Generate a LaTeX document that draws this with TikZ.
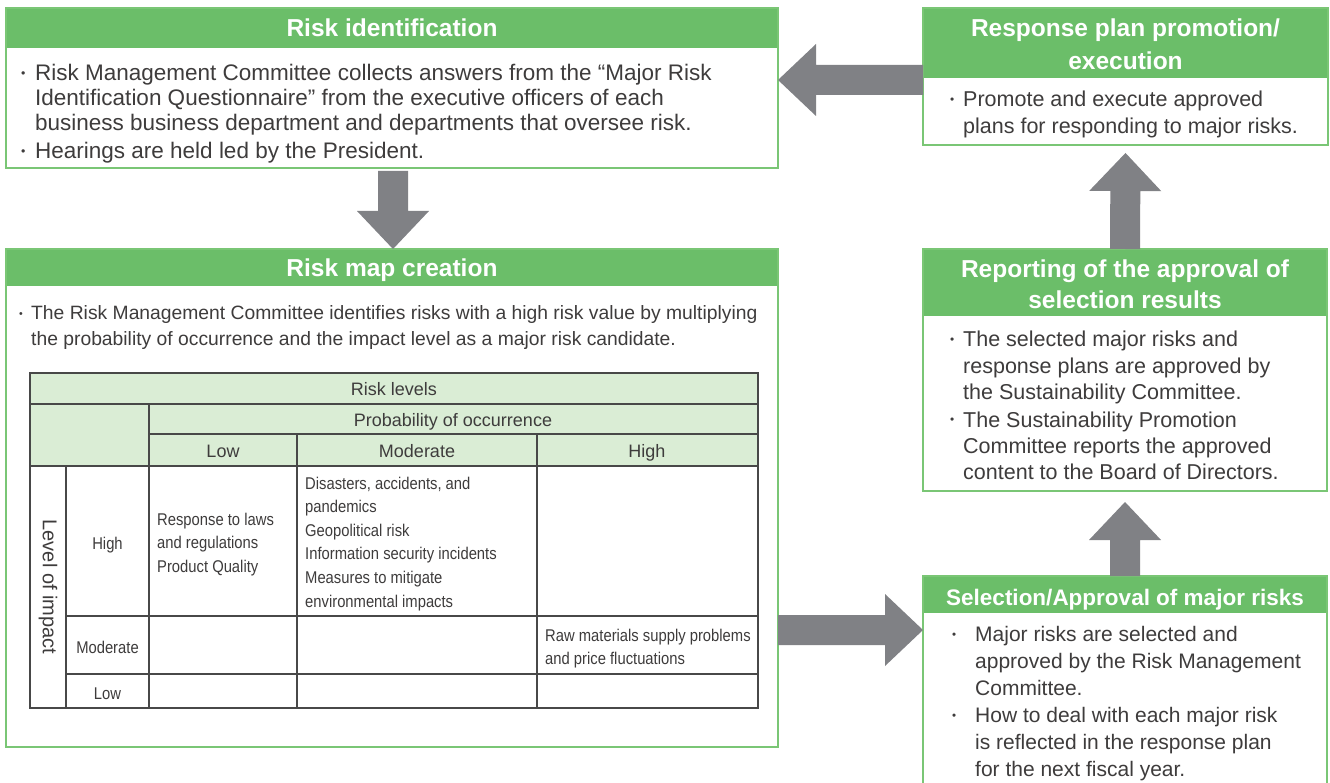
\documentclass[tikz,border=0pt]{standalone}
\usepackage{fontspec}
\usepackage{graphicx}
\setmainfont{Liberation Sans}
\newfontfamily\condfont[FakeStretch=0.87]{Liberation Sans}
\usetikzlibrary{calc}
\definecolor{bandc}{RGB}{107,190,105}
\definecolor{edgec}{RGB}{122,198,117}
\definecolor{hdrc}{RGB}{218,237,213}
\definecolor{gridc}{RGB}{72,72,72}
\definecolor{arrc}{RGB}{128,129,133}
\definecolor{txtc}{RGB}{62,60,60}
\newcommand\fs[2]{\fontsize{#1}{#2}\selectfont}
\newcommand\bul{\raisebox{0.14em}{\scalebox{0.55}{•}}}
\newcommand\pb[1]{\parbox[t]{800pt}{#1}}
\newcommand\blockarrow[2]{%
  \coordinate (ba-s) at (#1);
  \coordinate (ba-t) at (#2);
  \coordinate (ba-h) at ($(ba-t)!38pt!(ba-s)$);
  \fill[arrc] ($(ba-s)!15pt!90:(ba-t)$) -- ($(ba-h)!15pt!-90:(ba-s)$) -- ($(ba-h)!36pt!-90:(ba-s)$) -- (ba-t)
     -- ($(ba-h)!36pt!90:(ba-s)$) -- ($(ba-h)!15pt!90:(ba-s)$) -- ($(ba-s)!15pt!-90:(ba-t)$) -- cycle;}
\tikzset{
  frame/.style={draw=edgec, line width=1.6pt, inner sep=0pt, outer sep=0pt, anchor=north west},
  bandbox/.style={fill=bandc, draw=none, inner sep=0pt, outer sep=0pt, anchor=north west},
  ttl/.style={text=white, font=\bfseries\fs{24.5}{33}, inner sep=0pt, anchor=base},
  body/.style={text=txtc, inner sep=0pt, anchor=base west},
  hdrtext/.style={text=txtc, font=\fs{18}{22}, inner sep=0pt, anchor=base},
  cell/.style={text=txtc, font=\condfont\fs{17}{23.6}, inner sep=0pt, anchor=base west},
  rowlab/.style={text=txtc, font=\condfont\fs{17}{23.6}, inner sep=0pt, anchor=base},
  gridl/.style={draw=gridc, line width=1.1pt},
  gridouter/.style={draw=gridc, line width=1.5pt}
}
\begin{document}
\begin{tikzpicture}[x=1pt,y=1pt]
\useasboundingbox (0,0) rectangle (1330,-783);
\clip (0,0) rectangle (1330,-783);
\fill[white] (0,0) rectangle (1330,-783);

% ---------- Risk identification ----------
\node[bandbox, minimum width=772pt, minimum height=40pt] (riskidB) at (6,-8) {};
\node[frame, minimum width=772pt, minimum height=160pt] (riskid) at (6,-8) {};
\node[ttl] (riskidT) at (392,-37) {Risk identification};
\node[body, font=\fs{22.5}{25}] (riskidD1) at (21,-81) {\bul};
\node[body, font=\fs{22.5}{25}] (riskidP1) at (35,-81) {\pb{Risk Management Committee collects answers from the “Major Risk\\Identification Questionnaire” from the executive officers of each\\business business department and departments that oversee risk.}};
\node[body, font=\fs{22.5}{25}] (riskidD2) at (21,-159) {\bul};
\node[body, font=\fs{22.5}{25}] (riskidP2) at (35,-159) {Hearings are held led by the President.};

% ---------- Risk map creation ----------
\node[bandbox, minimum width=772pt, minimum height=37pt] (mapB) at (6,-249) {};
\node[frame, minimum width=772pt, minimum height=498pt] (riskmap) at (6,-249) {};
\node[ttl] (mapT) at (392,-277) {Risk map creation};
\node[body, font=\fs{19.3}{26}] (mapD1) at (19,-320) {\bul};
\node[body, font=\fs{19.3}{26}] (mapP1) at (31,-320) {\pb{The Risk Management Committee identifies risks with a high risk value by multiplying\\the probability of occurrence and the impact level as a major risk candidate.}};

% table
\fill[hdrc] (30,-373) rectangle (758,-466);
\draw[gridl] (30,-404) -- (758,-404);
\draw[gridl] (149,-434) -- (758,-434);
\draw[gridl] (30,-466) -- (758,-466);
\draw[gridl] (66,-616) -- (758,-616);
\draw[gridl] (66,-674) -- (758,-674);
\draw[gridl] (66,-466) -- (66,-708);
\draw[gridl] (149,-404) -- (149,-708);
\draw[gridl] (297,-434) -- (297,-708);
\draw[gridl] (537,-434) -- (537,-708);
\draw[gridouter] (30,-373) rectangle (758,-708);

\node[hdrtext] (hRL) at (394,-395) {Risk levels};
\node[hdrtext] (hPO) at (453,-426) {Probability of occurrence};
\node[hdrtext] (hLow) at (223,-457) {Low};
\node[hdrtext] (hMod) at (417,-457) {Moderate};
\node[hdrtext] (hHigh) at (647,-457) {High};
\node[text=txtc, font=\fs{20}{22}, inner sep=0pt, rotate=-90] (hLI) at (48,-587) {Level of impact};
\node[rowlab] (rHigh) at (107.5,-549) {High};
\node[rowlab] (rMod) at (107.5,-653) {Moderate};
\node[rowlab] (rLow) at (107.5,-699) {Low};
\node[cell] (cLH) at (157,-525) {\pb{Response to laws\\and regulations\\Product Quality}};
\node[cell] (cMH) at (305,-489) {\pb{Disasters, accidents, and\\pandemics\\Geopolitical risk\\Information security incidents\\Measures to mitigate\\environmental impacts}};
\node[cell] (cHM) at (545,-641) {\pb{Raw materials supply problems\\and price fluctuations}};

% ---------- Response plan promotion/execution ----------
\node[bandbox, minimum width=405pt, minimum height=70pt] (respB) at (923,-8) {};
\node[frame, minimum width=405pt, minimum height=137pt] (resp) at (923,-8) {};
\node[ttl] (respT) at (1125.5,-37) {\parbox[t]{400pt}{\centering Response plan promotion/\\execution}};
\node[body, font=\fs{21.5}{26.3}] (respD1) at (950,-107) {\bul};
\node[body, font=\fs{21.5}{26.3}] (respP1) at (963,-107) {\pb{Promote and execute approved\\plans for responding to major risks.}};

% ---------- Reporting ----------
\node[bandbox, minimum width=404pt, minimum height=67pt] (repB) at (923,-249) {};
\node[frame, minimum width=404pt, minimum height=242pt] (report) at (923,-249) {};
\node[ttl, font=\bfseries\fs{24.5}{31}] (repT) at (1125,-278) {\parbox[t]{400pt}{\centering Reporting of the approval of\\selection results}};
\node[body, font=\fs{21.5}{26.3}] (repD1) at (950,-347) {\bul};
\node[body, font=\fs{21.5}{26.3}] (repP1) at (963,-347) {\pb{The selected major risks and\\response plans are approved by\\the Sustainability Committee.}};
\node[body, font=\fs{21.5}{26.3}] (repD2) at (950,-427) {\bul};
\node[body, font=\fs{21.5}{26.3}] (repP2) at (963,-427) {\pb{The Sustainability Promotion\\Committee reports the approved\\content to the Board of Directors.}};

% ---------- Selection/Approval ----------
\node[bandbox, minimum width=404pt, minimum height=37pt] (selB) at (923,-576) {};
\node[frame, minimum width=404pt, minimum height=230pt] (select) at (923,-576) {};
\node[ttl, font=\bfseries\fs{22.5}{28}] (selT) at (1125,-605) {Selection/Approval of major risks};
\node[body, font=\fs{21}{27}] (selD1) at (952,-641) {\bul};
\node[body, font=\fs{21}{27}] (selP1) at (975,-641) {\pb{Major risks are selected and\\approved by the Risk Management\\Committee.}};
\node[body, font=\fs{21}{27}] (selD2) at (952,-722) {\bul};
\node[body, font=\fs{21}{27}] (selP2) at (975,-722) {\pb{How to deal with each major risk\\is reflected in the response plan\\for the next fiscal year.}};

% ---------- Arrows ----------
\coordinate (a1s) at ($(resp.west)+(0,-3.5)$);
\coordinate (a1t) at (riskid.east |- a1s);
\blockarrow{a1s}{a1t}
\coordinate (a2s) at ($(riskid.south)+(1,-3)$);
\coordinate (a2t) at ($(riskmap.north)+(1,0)$);
\blockarrow{a2s}{a2t}
\coordinate (a3s) at ($(riskmap.east)+(0,-132)$);
\coordinate (a3t) at (select.west |- a3s);
\blockarrow{a3s}{a3t}
\coordinate (a4s) at (select.north);
\coordinate (a4t) at ($(report.south)+(0,-11)$);
\blockarrow{a4s}{a4t}
\coordinate (a5s) at (report.north);
\coordinate (a5t) at ($(resp.south)+(0,-8)$);
\blockarrow{a5s}{a5t}
\end{tikzpicture}
\end{document}
